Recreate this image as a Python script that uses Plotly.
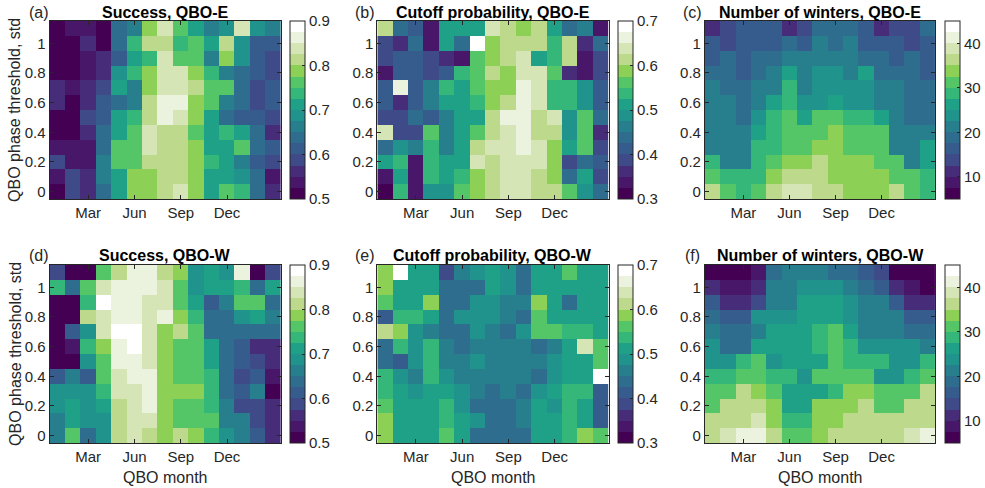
import plotly.graph_objects as go

# ---------------- data ----------------
qbo_month = list(range(1, 16))                     # Jan .. Mar (next year)
month_tickvals = [3, 6, 9, 12]
month_ticktext = ["Mar", "Jun", "Sep", "Dec"]
threshold = [1.1, 1.0, 0.9, 0.8, 0.7, 0.6, 0.5, 0.4, 0.3, 0.2, 0.1, 0.0]   # rows, top to bottom
y_tickvals = [0, 0.2, 0.4, 0.6, 0.8, 1]
y_ticktext = ["0", "0.2", "0.4", "0.6", "0.8", "1"]

success_E = [
    [.51, .54, .54, .51, .64, .66, .79, .84, .76, .71, .66, .69, .84, .69, .66],
    [.51, .51, .56, .51, .64, .74, .81, .81, .74, .76, .71, .81, .69, .61, .61],
    [.51, .51, .54, .56, .61, .71, .74, .84, .76, .76, .66, .79, .69, .61, .59],
    [.51, .51, .54, .56, .69, .74, .79, .84, .84, .79, .74, .66, .64, .61, .59],
    [.56, .54, .56, .59, .71, .66, .79, .84, .84, .81, .76, .76, .64, .59, .61],
    [.56, .51, .56, .61, .64, .66, .81, .86, .86, .79, .76, .66, .64, .59, .61],
    [.51, .51, .59, .61, .71, .74, .81, .86, .84, .79, .71, .64, .61, .61, .59],
    [.51, .51, .56, .64, .71, .76, .84, .81, .81, .76, .71, .74, .71, .64, .56],
    [.54, .54, .54, .64, .76, .76, .84, .81, .81, .79, .71, .71, .76, .64, .61],
    [.59, .54, .54, .66, .76, .76, .81, .81, .81, .79, .74, .71, .66, .61, .59],
    [.54, .59, .56, .66, .71, .79, .79, .81, .81, .79, .71, .71, .69, .64, .54],
    [.51, .59, .56, .64, .71, .79, .79, .81, .84, .79, .71, .76, .74, .64, .56],
]
cutoff_E = [
    [.61, .44, .41, .34, .51, .51, .51, .64, .61, .59, .61, .51, .44, .46, .34],
    [.39, .36, .44, .34, .51, .44, .69, .59, .61, .61, .61, .54, .61, .36, .44],
    [.39, .41, .41, .39, .36, .34, .56, .59, .61, .64, .51, .54, .61, .34, .39],
    [.34, .41, .41, .39, .41, .54, .56, .61, .59, .64, .64, .56, .36, .34, .39],
    [.41, .66, .41, .46, .54, .51, .56, .59, .59, .66, .64, .54, .54, .49, .41],
    [.41, .36, .41, .46, .51, .51, .54, .59, .61, .66, .64, .54, .54, .49, .41],
    [.39, .39, .44, .41, .46, .51, .51, .61, .66, .66, .61, .64, .49, .56, .44],
    [.64, .39, .39, .56, .46, .51, .56, .61, .64, .66, .61, .61, .49, .56, .36],
    [.44, .49, .46, .54, .46, .51, .61, .64, .64, .66, .64, .59, .51, .56, .39],
    [.51, .54, .34, .54, .51, .51, .64, .61, .64, .64, .64, .59, .39, .44, .41],
    [.34, .51, .34, .54, .51, .54, .59, .61, .64, .64, .61, .59, .44, .51, .39],
    [.31, .54, .34, .49, .49, .56, .59, .61, .64, .64, .61, .61, .56, .49, .44],
]
winters_E = [
    [11, 14, 17, 17, 17, 11, 14, 19, 19, 19, 17, 11, 14, 14, 18],
    [17, 14, 17, 17, 17, 19, 17, 21, 19, 21, 17, 17, 17, 14, 17],
    [17, 19, 17, 19, 19, 21, 21, 21, 21, 21, 19, 19, 17, 19, 17],
    [19, 19, 17, 19, 21, 26, 22, 24, 24, 22, 26, 19, 19, 19, 17],
    [21, 19, 19, 21, 22, 28, 22, 24, 24, 24, 24, 22, 21, 19, 19],
    [21, 21, 18, 22, 26, 28, 24, 24, 26, 24, 24, 22, 21, 19, 18],
    [21, 21, 19, 24, 29, 31, 26, 31, 31, 28, 28, 26, 21, 19, 19],
    [22, 21, 21, 26, 29, 31, 31, 31, 34, 31, 31, 31, 22, 21, 21],
    [22, 21, 21, 29, 29, 31, 31, 34, 34, 31, 31, 31, 22, 22, 26],
    [29, 22, 22, 29, 31, 34, 34, 36, 34, 34, 34, 31, 31, 22, 26],
    [31, 28, 28, 28, 34, 36, 36, 36, 34, 34, 34, 34, 31, 31, 28],
    [36, 31, 28, 31, 36, 39, 39, 36, 36, 34, 34, 34, 36, 31, 28],
]
success_W = [
    [.59, .51, .51, .76, .81, .86, .86, .81, .79, .69, .71, .69, .86, .51, .59],
    [.74, .64, .76, .84, .86, .86, .86, .84, .76, .69, .71, .71, .74, .64, .71],
    [.51, .51, .74, .89, .86, .86, .84, .84, .76, .71, .61, .66, .76, .76, .64],
    [.51, .51, .81, .84, .86, .86, .84, .86, .79, .74, .64, .64, .69, .71, .66],
    [.51, .61, .69, .84, .89, .89, .84, .79, .81, .76, .64, .64, .64, .64, .64],
    [.51, .54, .74, .79, .86, .89, .84, .79, .76, .76, .71, .64, .61, .56, .56],
    [.51, .51, .69, .76, .86, .86, .84, .79, .76, .76, .71, .64, .61, .59, .56],
    [.61, .66, .61, .76, .84, .86, .86, .79, .76, .76, .74, .64, .59, .61, .54],
    [.69, .69, .69, .74, .84, .84, .86, .79, .79, .79, .74, .64, .61, .66, .51],
    [.69, .71, .69, .71, .81, .84, .86, .79, .76, .76, .74, .66, .59, .59, .56],
    [.66, .71, .69, .69, .81, .84, .84, .79, .76, .76, .76, .66, .66, .59, .56],
    [.66, .76, .64, .69, .81, .84, .81, .79, .81, .79, .74, .69, .66, .61, .56],
]
cutoff_W = [
    [.59, .69, .51, .51, .39, .46, .49, .51, .49, .44, .51, .51, .56, .51, .51],
    [.59, .51, .51, .51, .44, .44, .44, .51, .49, .44, .51, .51, .51, .51, .51],
    [.56, .51, .51, .59, .44, .44, .49, .49, .46, .46, .59, .51, .44, .51, .51],
    [.41, .54, .54, .51, .44, .49, .49, .49, .46, .44, .56, .51, .51, .51, .51],
    [.61, .59, .49, .46, .44, .44, .49, .46, .44, .49, .56, .56, .54, .54, .51],
    [.44, .54, .49, .54, .46, .44, .46, .46, .46, .46, .44, .46, .51, .63, .56],
    [.44, .41, .49, .54, .46, .46, .49, .46, .46, .46, .46, .49, .51, .51, .56],
    [.54, .49, .46, .54, .49, .46, .46, .46, .46, .46, .44, .49, .51, .51, .69],
    [.54, .51, .49, .51, .51, .49, .46, .44, .46, .44, .49, .51, .54, .54, .41],
    [.56, .51, .51, .51, .54, .49, .44, .44, .44, .46, .51, .49, .54, .51, .41],
    [.59, .51, .51, .51, .54, .51, .49, .44, .44, .46, .51, .51, .54, .51, .41],
    [.59, .51, .51, .51, .56, .51, .44, .44, .44, .44, .51, .51, .54, .59, .56],
]
winters_W = [
    [6, 6, 6, 9, 18, 21, 21, 21, 19, 19, 17, 14, 6, 6, 6],
    [11, 9, 9, 11, 21, 21, 24, 24, 24, 21, 19, 17, 11, 9, 6],
    [16, 11, 11, 14, 21, 21, 26, 26, 26, 24, 21, 21, 16, 11, 11],
    [19, 16, 16, 24, 24, 24, 26, 26, 26, 24, 21, 21, 21, 16, 16],
    [22, 19, 19, 21, 26, 26, 26, 28, 31, 26, 22, 22, 22, 19, 18],
    [24, 19, 18, 26, 26, 26, 26, 28, 31, 28, 24, 24, 24, 24, 21],
    [24, 24, 29, 31, 24, 26, 26, 26, 31, 29, 29, 29, 24, 24, 29],
    [29, 29, 31, 31, 29, 29, 24, 31, 31, 31, 31, 24, 24, 29, 31],
    [31, 31, 36, 34, 31, 26, 26, 26, 29, 34, 34, 31, 31, 31, 36],
    [31, 36, 36, 36, 34, 26, 26, 34, 34, 34, 36, 31, 31, 36, 36],
    [36, 36, 36, 39, 34, 29, 29, 34, 34, 36, 36, 36, 36, 36, 36],
    [36, 39, 41, 41, 36, 31, 31, 33, 36, 36, 36, 36, 36, 39, 41],
]

titles = ["Success, QBO-E", "Cutoff probability, QBO-E", "Number of winters, QBO-E",
          "Success, QBO-W", "Cutoff probability, QBO-W", "Number of winters, QBO-W"]
letters = ["(a)", "(b)", "(c)", "(d)", "(e)", "(f)"]
ranges = [(0.5, 0.9), (0.3, 0.7), (5, 45), (0.5, 0.9), (0.3, 0.7), (5, 45)]
cb_ticks = [[0.5, 0.6, 0.7, 0.8, 0.9], [0.3, 0.4, 0.5, 0.6, 0.7], [10, 20, 30, 40]]

# ---------------- style ----------------
W, H = 985, 488
FONT = "Liberation Sans, Arial, Helvetica, sans-serif"
INK = "#262626"
palette = ["#440154", "#481769", "#472c7a", "#3f4a89", "#365c8d", "#2e6d8e",
           "#277f8e", "#20938c", "#1fa187", "#35b779", "#55c667", "#8cd055",
           "#bcd98c", "#d5e5b6", "#ebf2de", "#ffffff"]
n = len(palette)
cscale = []
for i, c in enumerate(palette):
    cscale.append([i / n, c])
    cscale.append([(i + 1) / n, c])

col_px = [(50, 283), (380, 613), (710, 942)]
cb_px = [292, 622, 952]
row_px = [(21, 199), (265, 443)]
title_y_px = [12, 255]
letter_x_px = [39, 368, 697]

fig = go.Figure()
panels = [success_E, cutoff_E, winters_E, success_W, cutoff_W, winters_W]
for k, z in enumerate(panels):
    r, c = divmod(k, 3)
    ax = "" if k == 0 else str(k + 1)
    zmin, zmax = ranges[k]
    y0, y1 = row_px[r]
    fig.add_trace(go.Heatmap(
        x=qbo_month, y=threshold[::-1], z=z[::-1],
        zmin=zmin, zmax=zmax, colorscale=cscale, zsmooth=False,
        xaxis="x" + ax, yaxis="y" + ax,
        colorbar=dict(
            x=cb_px[c] / W, xanchor="left", xpad=0, ypad=0,
            y=1 - (y0 + y1) / 2 / H, yanchor="middle",
            len=(y1 - y0) / H, lenmode="fraction",
            thickness=15, thicknessmode="pixels",
            outlinewidth=1, outlinecolor=INK,
            tickvals=cb_ticks[c], ticks="inside", ticklen=3, tickcolor=INK,
            tickfont=dict(family=FONT, size=15, color=INK),
        ),
    ))
    x0, x1 = col_px[c]
    common = dict(showline=True, mirror="ticks", linecolor=INK, linewidth=1,
                  ticks="inside", ticklen=4, tickcolor=INK, showgrid=False,
                  zeroline=False, tickfont=dict(family=FONT, size=15, color=INK))
    fig.layout["xaxis" + ax] = dict(domain=[x0 / W, x1 / W], range=[0.5, 15.5],
                                    tickvals=month_tickvals, ticktext=month_ticktext,
                                    anchor="y" + ax, **common)
    fig.layout["yaxis" + ax] = dict(domain=[1 - y1 / H, 1 - y0 / H], range=[-0.05, 1.15],
                                    tickvals=y_tickvals, ticktext=y_ticktext,
                                    anchor="x" + ax, **common)
    fig.add_annotation(x=(x0 + x1) / 2 / W, y=1 - title_y_px[r] / H, xref="paper", yref="paper",
                       text="<b>" + titles[k] + "</b>", showarrow=False,
                       font=dict(family=FONT, size=16, color="#000000"),
                       xanchor="center", yanchor="middle")
    fig.add_annotation(x=letter_x_px[c] / W, y=1 - title_y_px[r] / H, xref="paper", yref="paper",
                       text=letters[k], showarrow=False,
                       font=dict(family=FONT, size=16, color=INK),
                       xanchor="center", yanchor="middle")

for r in range(2):
    y0, y1 = row_px[r]
    fig.add_annotation(x=15 / W, y=1 - (y0 + y1) / 2 / H, xref="paper", yref="paper",
                       text="QBO phase threshold, std", textangle=-90, showarrow=False,
                       font=dict(family=FONT, size=16, color=INK),
                       xanchor="center", yanchor="middle")
for c in range(3):
    x0, x1 = col_px[c]
    fig.add_annotation(x=(x0 + x1) / 2 / W, y=1 - 477 / H, xref="paper", yref="paper",
                       text="QBO month", showarrow=False,
                       font=dict(family=FONT, size=16, color=INK),
                       xanchor="center", yanchor="middle")

fig.update_layout(width=W, height=H, margin=dict(l=0, r=0, t=0, b=0),
                  paper_bgcolor="white", plot_bgcolor="white", showlegend=False,
                  font=dict(family=FONT, color=INK))
fig.write_html("out.html")
